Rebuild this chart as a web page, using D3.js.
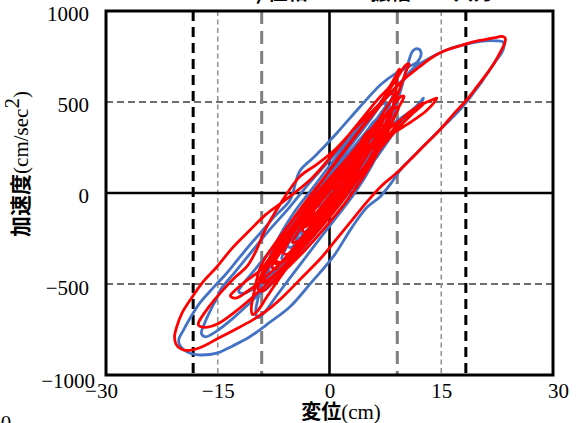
<!DOCTYPE html>
<html>
<head>
<meta charset="utf-8">
<script src="https://cdn.jsdelivr.net/npm/d3@7"></script>
<style>
  body { margin: 0; background: #fff; }
  svg { display: block; }
  .tick text { font-family: "Liberation Serif", "Times New Roman", serif; font-size: 21px; fill: #000; }
  .ttl { font-family: "Noto Sans CJK JP", sans-serif; font-weight: 700; font-size: 20px; fill: #000; }
  .ttl .lat { font-family: "Liberation Serif", serif; font-weight: 400; font-size: 21px; }
</style>
</head>
<body>
<div id="chart"></div>
<script>
// tick values
const xTicks = [-30, -15, 0, 15, 30];
const yTicks = [-1000, -500, 0, 500, 1000];
const xGrid = [-15, 15];
const yGrid = [-500, 500];
// vertical reference lines (cm)
const limitLines = [-18.3, 18.3];
const halfLines = [-9.1, 9.1];

// displacement (cm) vs acceleration (cm/sec^2)
const blueLoop = [
  [0,0],[1.4,70],[2.8,160],[3.4,210],[3,215],[1.6,130],[0,40],[-1.8,-70],[-3.2,-170],[-3.8,-220],
  [-3.2,-225],[-1.8,-150],[0.2,-40],[2.4,90],[4.4,220],[5.8,320],[6.2,350],[5.6,350],[4,270],[1.6,150],
  [-1,20],[-3.4,-120],[-5.8,-260],[-7.6,-380],[-8.2,-430],[-7.6,-440],[-6,-370],[-3.6,-250],[-0.8,-110],
  [2,40],[4.6,190],[6.6,340],[8,480],[8.8,570],[9.1,610],[8.6,605],[7.4,530],[5.6,430],[3,300],[0.4,170],
  [-2.2,30],[-4.8,-110],[-7,-260],[-8.6,-420],[-9.6,-580],[-9.9,-660],[-9.6,-685],[-8.8,-660],[-7.2,-570],
  [-5,-450],[-2.4,-310],[0.6,-150],[3.4,0],[5.8,160],[7.6,320],[8.8,460],[9.8,600],[10.6,720],[11.2,782],
  [11.9,792],[12.3,770],[11.8,720],[10.4,690],[9,660],[7,600],[4.1,474],[1,330],[-2,200],[-4,120],
  [-5.3,-38],[-7.4,-130],[-9.3,-220],[-11.6,-330],[-13.8,-441],[-15.6,-520],[-17.4,-604],[-18.6,-680],
  [-19.6,-753],[-20.2,-800],[-20.2,-826],[-19.6,-860],[-18.6,-882],[-17.4,-890],[-15.1,-880],[-13,-840],
  [-10.7,-790],[-8,-710],[-5.3,-625],[-2.4,-490],[0.5,-350],[3,-190],[5,-80],[6.8,-20],[8.2,50],[9.5,126],
  [11.6,215],[13.9,309],[15.5,375],[17.1,439],[18.3,495],[19.3,549],[20.5,615],[21.5,676],[22.4,730],
  [23.1,769],[23.4,800],[23.3,830],[22.4,836],[21,836],[19.3,826],[17.4,808],[15.7,786],[14.3,760],
  [13,731],[11.4,690],[9.8,620],[8,540],[5.4,430],[2.6,300],[0,180],[-2.8,50],[-5.4,-80],[-8,-200],
  [-10.4,-320],[-12.8,-440],[-14.6,-530],[-15.1,-577],[-15.8,-630],[-16.8,-720],[-17.2,-771],[-16.6,-790],
  [-15.2,-760],[-13,-690],[-10.6,-600],[-8,-500],[-5.2,-380],[-2.4,-250],[0.6,-100],[3.6,50],[6.4,200],
  [8.8,340],[10.8,440],[12.2,500],[12.6,522],[12.4,505],[11.2,460],[9.2,400],[6.6,320],[3.6,210],
  [0.6,80],[-2.4,-60],[-5.4,-200],[-8.2,-330],[-10.4,-440],[-11.8,-510],[-12.2,-540],[-11.6,-552],
  [-10.4,-530],[-8.2,-460],[-5.6,-360],[-2.8,-230],[0,-100],[2.8,40],[5.2,190],[7,330],[7.9,430],
  [8.1,480],[7.6,475],[6.4,410],[4.2,300],[1.6,170],[-1.2,30],[-3.8,-110],[-6.2,-250],[-7.8,-380],
  [-8.5,-450],[-8.2,-475],[-7.2,-450],[-5.2,-370],[-2.6,-250],[0,-120],[2.6,20],[4.6,170],[5.9,300],
  [6.5,390],[6.2,400],[5,340],[3,230],[0.6,100],[-2,-40],[-4.2,-180],[-5.8,-300],[-6.4,-360],[-6,-370],
  [-4.8,-330],[-2.6,-230],[-0.2,-110],[2.2,30],[4,170],[4.9,270],[5,300],[4.6,300],[3.4,230],[1.4,120],
  [-0.8,0],[-2.8,-130],[-4.2,-230],[-4.5,-262],[-4,-268],[-2.6,-200],[-0.6,-90],[1.4,30],[2.8,140],
  [3.4,190],[3,190],[1.6,110],[-0.2,10],[-1.6,-70],[-1.2,-70],[0,-10],[1.8,90],[3.8,210],[5.6,330],
  [7,440],[7.6,490],[7.1,490],[5.6,410],[3.4,290],[0.8,150],[-2,10],[-4.6,-140],[-6.8,-290],[-8.4,-430],
  [-9.2,-520],[-8.8,-535],[-7.6,-490],[-5.6,-400],[-3,-280],[-0.2,-140],[2.6,10],[4.8,150],[6.4,270],
  [7.2,340],[6.8,345],[5.2,270],[3,160],[0.4,40],[-2.2,-90],[-4.4,-210],[-5.6,-290],[-5.2,-300],
  [-3.6,-230],[-1.2,-120],[1.2,0],[2.8,90],[3,110]
];

const redLoop = [
  [0,10],[1.3,80],[2.5,150],[3.2,195],[2.8,205],[1.6,130],[0.2,40],[-1.5,-60],[-2.9,-150],[-3.6,-205],
  [-3.2,-215],[-2,-150],[-0.2,-50],[1.8,70],[3.6,190],[5,290],[5.7,335],[5.3,340],[4,270],[2,160],
  [-0.4,30],[-2.8,-100],[-5,-230],[-6.8,-340],[-7.7,-405],[-7.4,-420],[-6,-360],[-3.8,-250],[-1.2,-120],
  [1.6,20],[4.2,160],[6.4,300],[8.2,440],[9.5,580],[10.4,680],[10.7,708],[10.3,705],[9.2,640],[7.6,540],
  [5.6,430],[3.2,300],[0.8,170],[-1.8,20],[-4.4,-120],[-7,-260],[-9.2,-400],[-10.1,-540],[-10.5,-640],
  [-10.3,-668],[-9.7,-650],[-8.4,-570],[-6.4,-450],[-3.8,-310],[-0.8,-160],[2.2,-10],[4.8,130],[6.8,280],
  [8.2,420],[8.9,560],[9.2,670],[9.4,680],[9.1,660],[8,580],[6.6,520],[3.6,370],[0.6,220],[-2.4,80],
  [-6,-40],[-8.6,-120],[-10.7,-205],[-13,-300],[-15.1,-405],[-17,-490],[-18.7,-588],[-19.8,-660],
  [-20.5,-735],[-20.8,-790],[-20.6,-830],[-20,-855],[-19.2,-865],[-17.4,-850],[-15,-800],[-12.9,-755],
  [-10.4,-700],[-8.2,-640],[-6,-560],[-3.6,-460],[-1.2,-360],[0.8,-260],[3,-150],[5,-50],[7,40],[9,110],
  [10.8,182],[12.8,265],[14.8,346],[16.8,440],[18.4,511],[19.8,584],[21.2,660],[22.2,720],[23,780],
  [23.5,820],[23.6,850],[23.2,860],[22.6,857],[21.2,845],[20.2,838],[18.8,825],[17.5,808],[16,790],
  [14.8,769],[13.4,735],[12.1,694],[10.4,639],[8.4,560],[6,460],[3.4,355],[0.8,240],[-1.6,160],[-4,90],
  [-6.6,-60],[-8.6,-200],[-10,-330],[-11.1,-405],[-12.6,-460],[-14,-520],[-15.4,-585],[-16.8,-660],
  [-17.5,-705],[-17.6,-725],[-16.8,-738],[-15,-718],[-12.6,-650],[-10,-560],[-7.2,-450],[-4.4,-320],
  [-1.4,-170],[1.6,-20],[4.4,130],[7.6,300],[10.6,440],[12.6,490],[13.8,512],[14.4,522],[14.1,500],
  [13,452],[11,392],[8.6,330],[5.6,245],[2.4,140],[-0.8,20],[-3.8,-120],[-6.6,-270],[-9.2,-420],
  [-11.4,-490],[-12.8,-540],[-13.3,-565],[-12.6,-578],[-11,-540],[-8.8,-470],[-6.2,-370],[-3.4,-250],
  [-0.6,-120],[2.4,20],[5.4,170],[8.4,320],[11,430],[12.4,480],[12.7,495],[12.2,488],[11,445],[9,385],
  [6.4,300],[3.4,190],[0.4,60],[-2.8,-80],[-5.6,-220],[-7.8,-340],[-9,-440],[-9.4,-480],[-8.8,-490],
  [-7.4,-450],[-5.2,-360],[-2.6,-240],[0.2,-110],[3,30],[5.6,180],[7.6,320],[8.8,430],[9.3,470],
  [8.9,470],[7.6,420],[5.4,330],[2.8,210],[0,80],[-2.8,-60],[-5.2,-200],[-6.8,-320],[-7.4,-380],
  [-6.8,-390],[-5,-330],[-2.6,-210],[0,-80],[2.6,60],[4.8,200],[6.4,330],[7.2,400],[7.4,420],[7,415],
  [5.6,350],[3.4,240],[0.8,110],[-1.8,-30],[-4.2,-170],[-5.8,-290],[-6.2,-330],[-5.6,-335],[-3.8,-260],
  [-1.2,-140],[1.6,0],[4,140],[5.8,260],[6.6,330],[6.2,330],[4.6,250],[2.2,130],[-0.6,-10],[-3,-140],
  [-4.6,-240],[-5,-270],[-4.2,-265],[-2.4,-180],[0,-60],[2.4,70],[4.2,190],[5,250],[4.6,250],[2.6,150],
  [0.2,30],[-2.2,-90],[-3.6,-170],[-3.8,-190],[-3,-180],[-1,-80],[1.2,30],[3,130],[3.6,170],[3,160],
  [1.2,70],[-0.8,-30],[-2.2,-110],[-1.8,-110],[-0.2,-30],[1,30],[0.6,20],[2,110],[4,230],[6,360],
  [7.8,480],[8.6,540],[8.2,545],[6.6,470],[4.4,360],[2,230],[-0.6,90],[-3.4,-60],[-6,-210],[-8,-360],
  [-9.2,-470],[-9.6,-530],[-9,-540],[-7.6,-490],[-5.6,-410],[-3.2,-310],[-0.6,-190],[2,-60],[4.4,80],
  [6.6,230],[8.2,370],[9.4,480],[10,530],[9.6,530],[8.2,460],[6.2,370],[3.8,260],[1.2,130],[-1.6,-10],
  [-4.2,-150],[-6.6,-290],[-8.4,-420],[-9,-470],[-8.2,-480],[-6.4,-420],[-4,-320],[-1.4,-200],[1.4,-60],
  [3.8,80],[5.8,220],[7,330],[7.4,370],[6.8,370],[5.2,300],[3,200],[0.4,80],[-2.4,-60],[-4.8,-200],
  [-6.6,-320],[-7.2,-370],[-6.4,-380],[-4.6,-310],[-2.2,-200],[0.4,-70],[2.8,60],[4.6,180],[5.4,240],
  [4.8,240],[3,160],[0.8,60],[-1.6,-60],[-3.4,-160],[-3.6,-180],[-2.4,-140],[-0.6,-50],[0.4,0]
];

const W = 578, H = 423;
const L = 106, R = 553, T = 11, B = 375;

const svg = d3.select("#chart").append("svg")
  .attr("width", W).attr("height", H)
  .attr("font-family", "'Liberation Serif', 'Times New Roman', serif");

const x = d3.scaleLinear().domain([-30, 30]).range([L, R]);
const y = d3.scaleLinear().domain([-1000, 1000]).range([B, T]);

// title (cut off at top of the frame)
svg.append("text").attr("class", "ttl")
  .attr("x", 368).attr("y", -0.5).attr("text-anchor", "middle")
  .text("b) 位相50%・振幅50%入力");

// gridlines
const gGrid = svg.append("g");
gGrid.selectAll("line.hg").data(yGrid).join("line")
  .attr("x1", L).attr("x2", R).attr("y1", d => y(d)).attr("y2", d => y(d))
  .attr("stroke", "#6e6e6e").attr("stroke-width", 1.8).attr("stroke-dasharray", "7,4");
gGrid.selectAll("line.vg").data(xGrid).join("line")
  .attr("y1", T).attr("y2", B).attr("x1", d => x(d)).attr("x2", d => x(d))
  .attr("stroke", "#949494").attr("stroke-width", 1.6).attr("stroke-dasharray", "5,3.5");
gGrid.selectAll("line.hl").data(halfLines).join("line")
  .attr("y1", T).attr("y2", B).attr("x1", d => x(d)).attr("x2", d => x(d))
  .attr("stroke", "#7f7f7f").attr("stroke-width", 3).attr("stroke-dasharray", "13,7");
gGrid.selectAll("line.ll").data(limitLines).join("line")
  .attr("y1", T).attr("y2", B).attr("x1", d => x(d)).attr("x2", d => x(d))
  .attr("stroke", "#000").attr("stroke-width", 3).attr("stroke-dasharray", "10,6");

// zero axes
svg.append("line").attr("x1", L).attr("x2", R).attr("y1", y(0)).attr("y2", y(0))
  .attr("stroke", "#000").attr("stroke-width", 2.6);
svg.append("line").attr("x1", x(0)).attr("x2", x(0)).attr("y1", T).attr("y2", B)
  .attr("stroke", "#000").attr("stroke-width", 2.6);

// loops
const line = d3.line().x(d => x(d[0])).y(d => y(d[1])).curve(d3.curveCatmullRom.alpha(0.5));
svg.append("path").datum(blueLoop).attr("d", line)
  .attr("fill", "none").attr("stroke", "#4472c4").attr("stroke-width", 2.8)
  .attr("stroke-linejoin", "round").attr("stroke-linecap", "round");
svg.append("path").datum(redLoop).attr("d", line)
  .attr("fill", "none").attr("stroke", "#ff0000").attr("stroke-width", 2.8)
  .attr("stroke-linejoin", "round").attr("stroke-linecap", "round");

// frame
svg.append("rect").attr("x", L).attr("y", T).attr("width", R - L).attr("height", B - T)
  .attr("fill", "none").attr("stroke", "#000").attr("stroke-width", 3);

// axes
const yAx = svg.append("g").attr("transform", `translate(${L},0)`)
  .call(d3.axisLeft(y).tickValues(yTicks).tickSize(0).tickPadding(17).tickFormat(d3.format("d")));
yAx.select(".domain").remove();
yAx.selectAll("text")
  .attr("dy", d => d === -1000 ? "0.6em" : d === -500 ? "0.5em" : "0.44em")
  .attr("dx", d => d === -1000 ? 6 : 0);

const xAx = svg.append("g").attr("transform", `translate(0,${B})`)
  .call(d3.axisBottom(x).tickValues(xTicks).tickSize(0).tickPadding(8).tickFormat(d3.format("d")));
xAx.select(".domain").remove();
xAx.selectAll("text").attr("dy", "0.71em")
  .attr("dx", d => d === -30 ? -5 : d === 30 ? 5 : 0);

// axis titles
const xt = svg.append("text").attr("class", "ttl").attr("x", 341).attr("y", 419).attr("text-anchor", "middle");
xt.append("tspan").text("変位");
xt.append("tspan").attr("class", "lat").text("(cm)");

const yt = svg.append("text").attr("class", "ttl").attr("font-size", 22)
  .attr("transform", "translate(28,164) rotate(-90)").attr("text-anchor", "middle");
yt.append("tspan").attr("font-size", 21).text("加速度");
yt.append("tspan").attr("class", "lat").attr("font-size", 22).text("(cm/sec");
yt.append("tspan").attr("class", "lat").attr("font-size", 13).attr("dy", -9).text("2");
yt.append("tspan").attr("class", "lat").attr("font-size", 22).attr("dy", 9).text(")");

// stray label from the neighbouring chart, cut at the bottom edge
svg.append("text").attr("x", 6).attr("y", 430).attr("text-anchor", "middle")
  .attr("font-size", 21).text("0");
</script>
</body>
</html>
